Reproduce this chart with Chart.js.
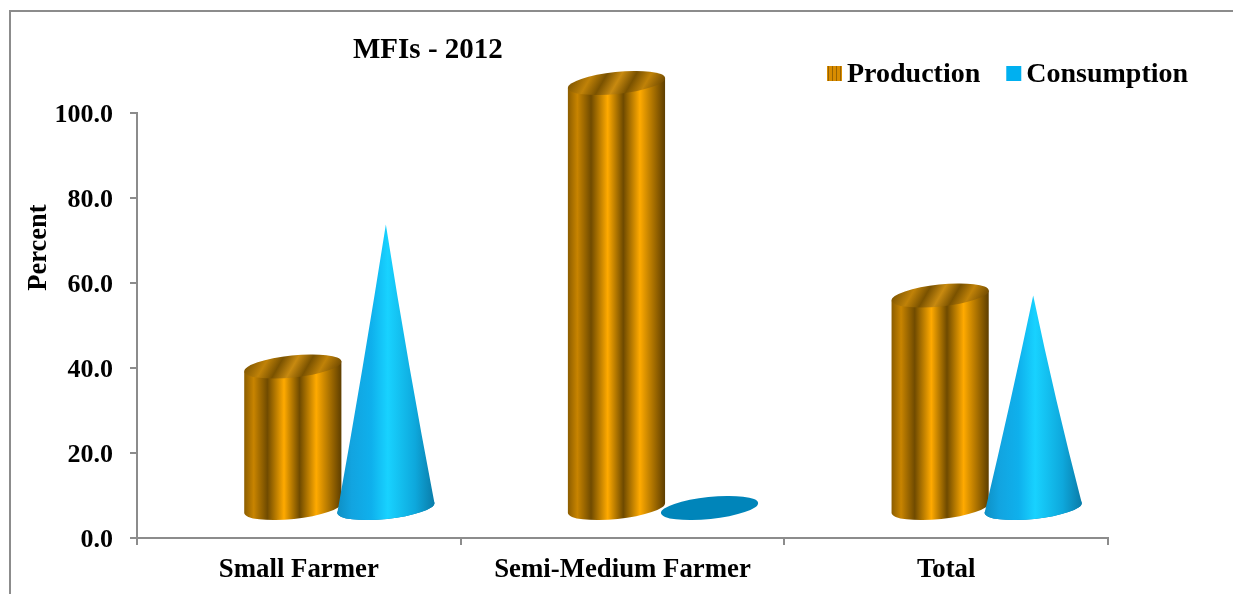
<!DOCTYPE html>
<html>
<head>
<meta charset="utf-8">
<title>MFIs - 2012</title>
<script src="https://cdn.jsdelivr.net/npm/chart.js@4"></script>
<style>
  html, body { margin: 0; height: 100%; overflow: hidden; background: #fff; }
  #frame { position: absolute; left: 9px; top: 10px; width: 1400px; height: 800px; border: 2px solid #8c8c8c; }
  #chart { position: absolute; left: 0; top: 0; }
</style>
</head>
<body>
<div id="frame"></div>
<canvas id="chart" width="1233" height="594"></canvas>
<script>
const categories = ["Small Farmer", "Semi-Medium Farmer", "Total"];
const production = [33.3, 100.0, 50.0];
const consumption = [66.7, 0.0, 50.0];

const FONT = "'Liberation Serif', 'Times New Roman', serif";
const AXIS_COLOR = "#8c8c8c";

// the 3D look: marks sit on a floor pushed back and to the right of the axes
const DEPTH_X = 40.5;
const DEPTH_Y = 30;
const TILT = -6 * Math.PI / 180;
const MINOR = 11;

const brownStops = [
  [0, "#8a5c00"], [0.1, "#c88400"], [0.24, "#704b00"], [0.41, "#ffaa00"],
  [0.57, "#6e4a00"], [0.74, "#ffaa00"], [1, "#5c3d00"],
];
const lidStops = [
  [0, "#7a5200"], [0.2, "#c08208"], [0.35, "#7a5200"], [0.5, "#c88a10"],
  [0.65, "#7a5200"], [0.8, "#c08208"], [1, "#6a4600"],
];
const blueStops = [
  [0, "#0e8fc4"], [0.15, "#12a4e0"], [0.35, "#0fb0ec"], [0.52, "#18d2ff"],
  [0.8, "#0ea8dc"], [1, "#0a7ba8"],
];

function makeGradient(ctx, x0, y0, x1, y1, stops) {
  const g = ctx.createLinearGradient(x0, y0, x1, y1);
  stops.forEach(s => g.addColorStop(s[0], s[1]));
  return g;
}

// small striped swatch used for the Production legend box
function stripePattern() {
  const c = document.createElement("canvas");
  c.width = 4;
  c.height = 4;
  const p = c.getContext("2d");
  p.fillStyle = "#d98c00";
  p.fillRect(0, 0, 4, 4);
  p.fillStyle = "#9a6400";
  p.fillRect(0, 0, 1, 4);
  return p.createPattern(c, "repeat");
}

function drawCylinder(ctx, bar, baseY) {
  const a = bar.width / 2;
  const cx = bar.x + DEPTH_X;
  const topY = bar.y - DEPTH_Y;
  const dx = a * Math.cos(TILT);
  const dy = a * Math.sin(TILT);

  ctx.fillStyle = makeGradient(ctx, cx - a, 0, cx + a, 0, brownStops);
  ctx.beginPath();
  ctx.ellipse(cx, baseY, a, MINOR, TILT, 0, Math.PI);
  ctx.lineTo(cx - dx, topY - dy);
  ctx.lineTo(cx + dx, topY + dy);
  ctx.closePath();
  ctx.fill();

  // lid, stripes run diagonally across it
  const gx = a * 0.75, gy = a * 0.43;
  ctx.fillStyle = makeGradient(ctx, cx - gx, topY - gy, cx + gx, topY + gy, lidStops);
  ctx.beginPath();
  ctx.ellipse(cx, topY, a, MINOR, TILT, 0, Math.PI * 2);
  ctx.fill();
}

function drawCone(ctx, bar, baseY) {
  const a = bar.width / 2;
  const cx = bar.x + DEPTH_X;
  const topY = bar.y - DEPTH_Y;
  const dx = a * Math.cos(TILT);
  const dy = a * Math.sin(TILT);

  // underside, this is all that shows for a zero value
  ctx.fillStyle = "#0085ba";
  ctx.beginPath();
  ctx.ellipse(cx, baseY, a, MINOR, TILT, 0, Math.PI * 2);
  ctx.fill();
  if (baseY - topY < 1) return;

  // sides bow in a little towards the tip
  const midY = (baseY + topY) / 2;
  ctx.fillStyle = makeGradient(ctx, cx - a, 0, cx + a, 0, blueStops);
  ctx.beginPath();
  ctx.ellipse(cx, baseY, a, MINOR, TILT, 0, Math.PI);
  ctx.quadraticCurveTo(cx - dx / 2 + 2, midY, cx, topY);
  ctx.quadraticCurveTo(cx + dx / 2 - 2, midY, cx + dx, baseY + dy);
  ctx.closePath();
  ctx.fill();
}

const shapes = {
  id: "shapes",
  afterLayout(chart) {
    // title sits left of centre, over the first groups
    chart.titleBlock.left = 353;
  },
  beforeDatasetDraw() {
    return false;
  },
  afterDatasetsDraw(chart) {
    const ctx = chart.ctx;
    const baseY = chart.scales.y.getPixelForValue(0) - DEPTH_Y;
    ctx.save();
    chart.getDatasetMeta(0).data.forEach(bar => drawCylinder(ctx, bar, baseY));
    chart.getDatasetMeta(1).data.forEach(bar => drawCone(ctx, bar, baseY));
    ctx.restore();
  },
  afterDraw(chart) {
    const ctx = chart.ctx;
    ctx.save();
    ctx.fillStyle = "#000";

    // y axis caption, placed above the middle of the axis
    ctx.font = "bold 26.5px " + FONT;
    ctx.textAlign = "center";
    ctx.textBaseline = "middle";
    ctx.translate(39, 247.5);
    ctx.rotate(-Math.PI / 2);
    ctx.fillText("Percent", 0, 0);
    ctx.restore();

    // legend, tighter box-to-text gap than the built-in one allows
    ctx.save();
    ctx.font = "bold 28px " + FONT;
    ctx.textBaseline = "alphabetic";
    let x = 827;
    chart.data.datasets.forEach(ds => {
      ctx.fillStyle = ds.backgroundColor;
      ctx.fillRect(x, 66, 15, 15);
      ctx.fillStyle = "#000";
      ctx.fillText(ds.label, x + 20, 82);
      x += 20 + ctx.measureText(ds.label).width + 26;
    });
    ctx.restore();
  },
};

new Chart(document.getElementById("chart"), {
  type: "bar",
  data: {
    labels: categories,
    datasets: [
      { label: "Production", data: production, backgroundColor: stripePattern() },
      { label: "Consumption", data: consumption, backgroundColor: "#00b0f0" },
    ],
  },
  options: {
    responsive: false,
    animation: false,
    layout: { padding: { left: 0, right: 125, top: 0, bottom: 0 } },
    datasets: { bar: { categoryPercentage: 0.575, barPercentage: 1.05 } },
    plugins: {
      legend: { display: false },
      tooltip: { enabled: false },
      title: {
        display: true,
        text: "MFIs - 2012",
        align: "start",
        color: "#000",
        font: { family: FONT, size: 29, weight: "bold", lineHeight: 1.2 },
        padding: { top: 33.6, bottom: 44.6 },
      },
    },
    scales: {
      x: {
        afterFit(scale) { scale.height = 56; },
        border: { color: AXIS_COLOR, width: 2 },
        grid: { drawOnChartArea: false, color: AXIS_COLOR, lineWidth: 2, tickLength: 7 },
        ticks: { color: "#000", padding: 9, maxRotation: 0, font: { family: FONT, size: 26.8, weight: "bold" } },
      },
      y: {
        min: 0,
        max: 100,
        afterFit(scale) { scale.width = 137; },
        border: { color: AXIS_COLOR, width: 2 },
        grid: { drawOnChartArea: false, color: AXIS_COLOR, lineWidth: 2, tickLength: 7 },
        ticks: {
          stepSize: 20,
          color: "#000",
          padding: 17,
          labelOffset: 2,
          font: { family: FONT, size: 26, weight: "bold" },
          callback: v => v.toFixed(1),
        },
      },
    },
  },
  plugins: [shapes],
});
</script>
</body>
</html>
